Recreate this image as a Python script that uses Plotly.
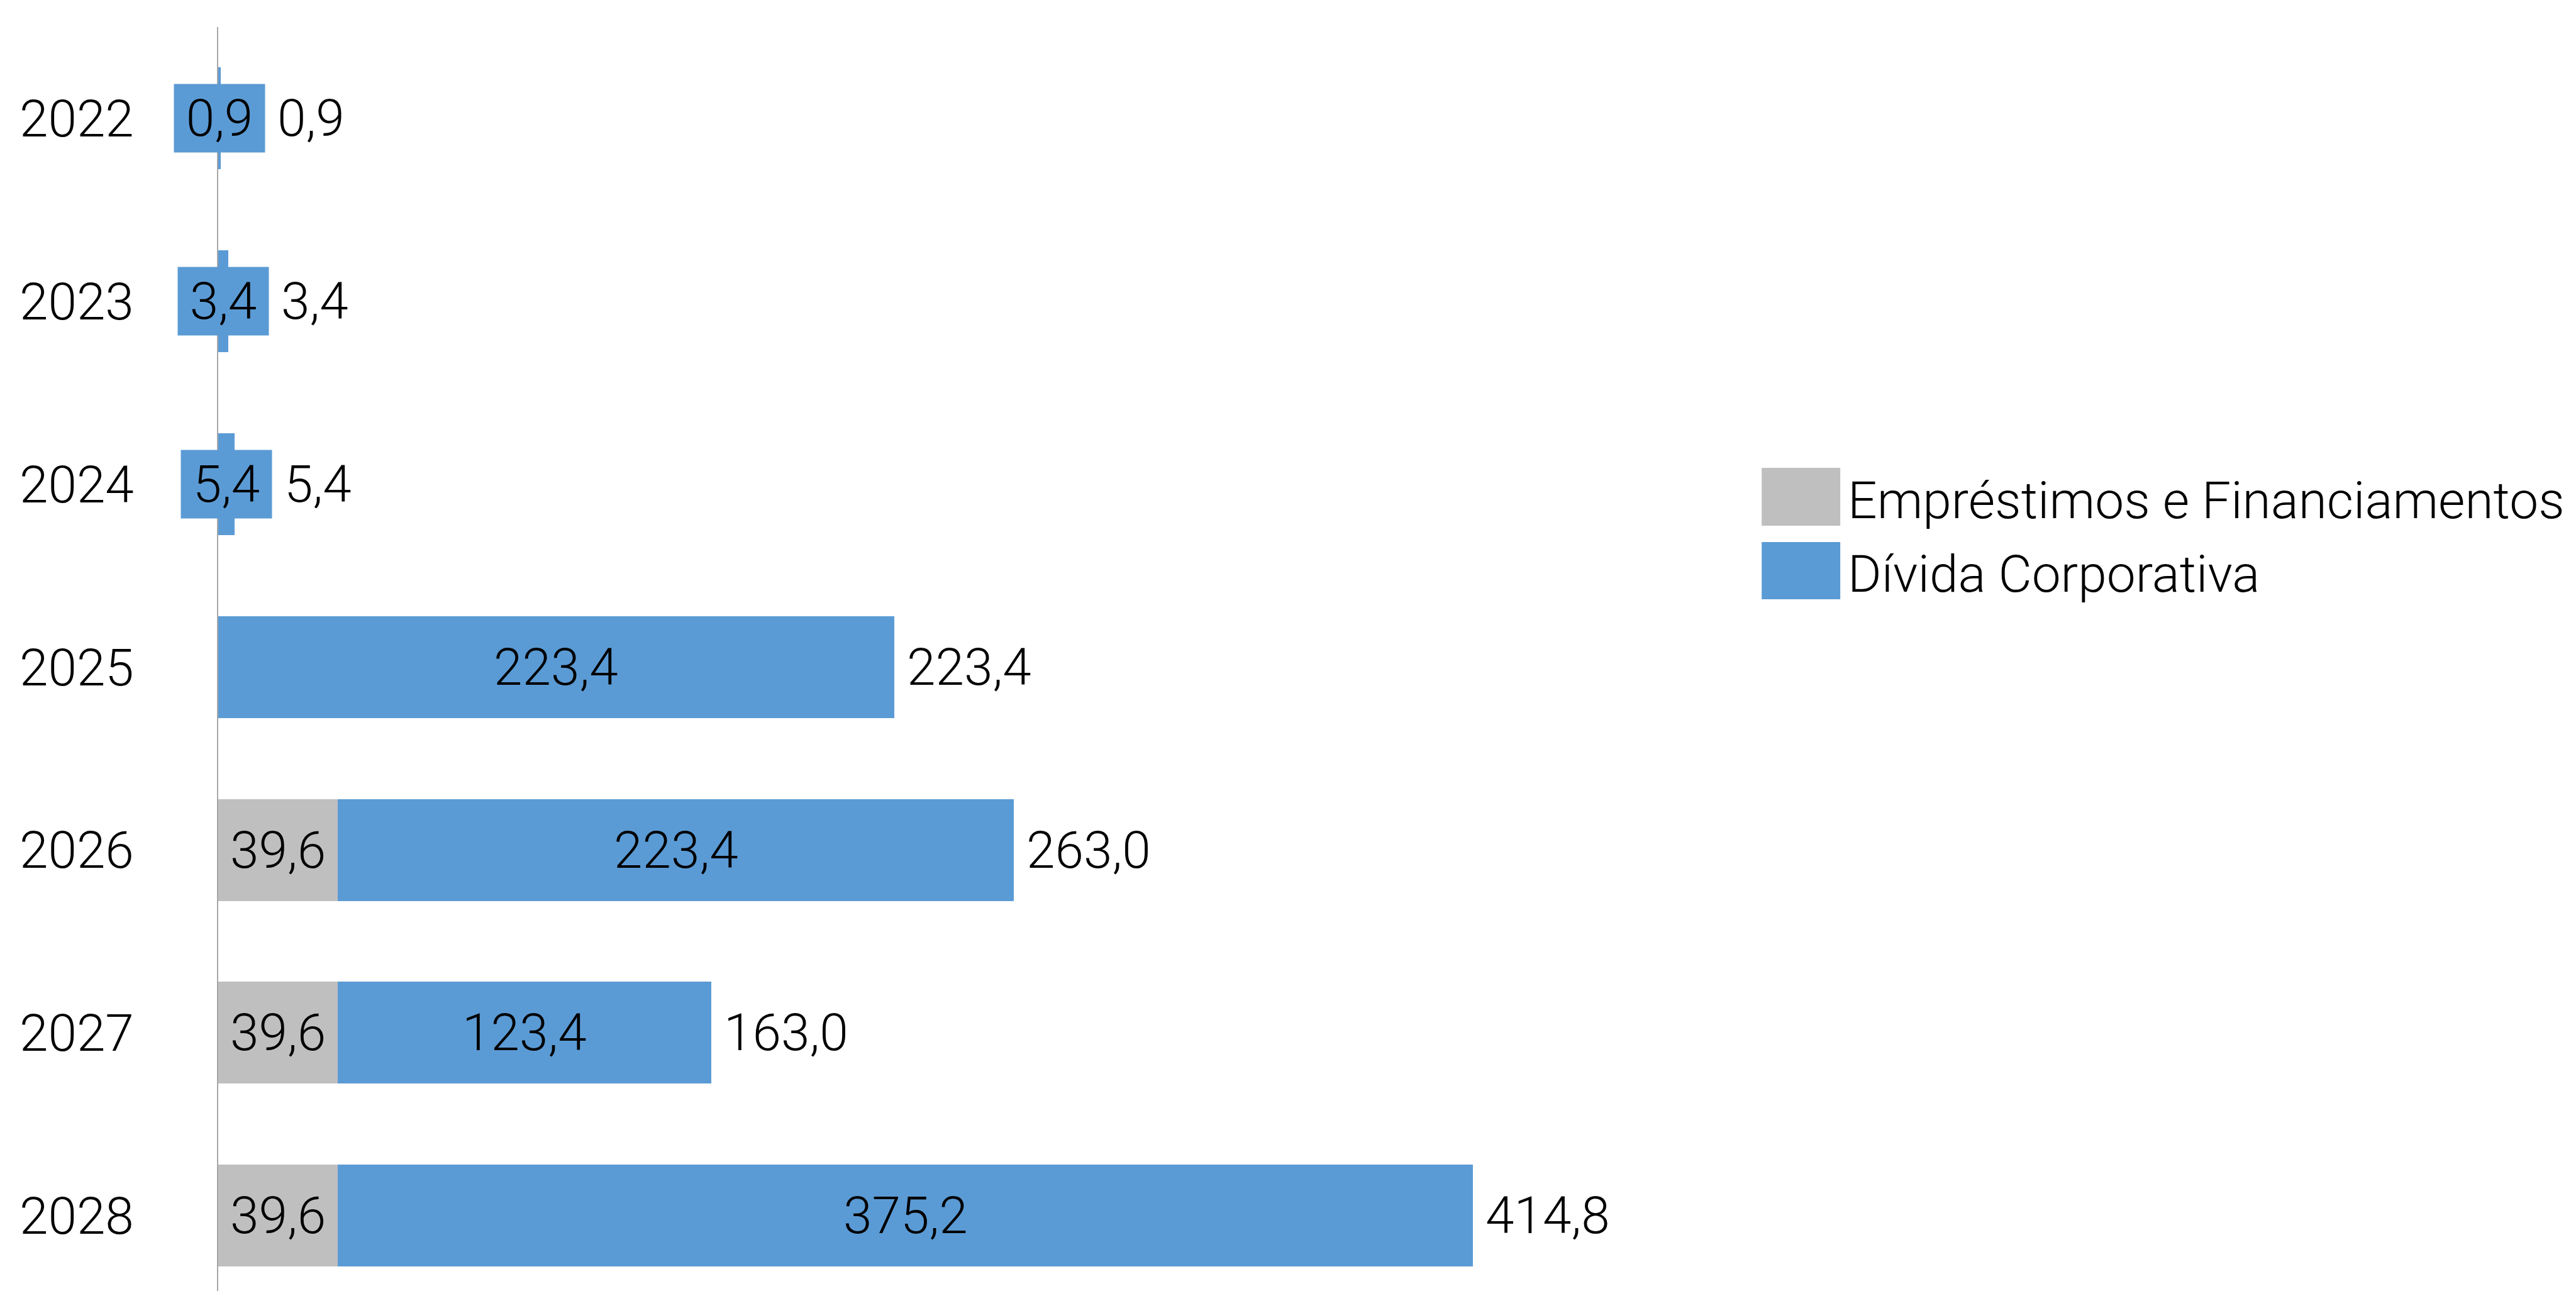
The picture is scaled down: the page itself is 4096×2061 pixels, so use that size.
import plotly.graph_objects as go

# ---- data ----
years = ["2022", "2023", "2024", "2025", "2026", "2027", "2028"]
emprestimos = [0.0, 0.0, 0.0, 0.0, 39.6, 39.6, 39.6]
divida = [0.9, 3.4, 5.4, 223.4, 223.4, 123.4, 375.2]
series_names = ["Empréstimos e Financiamentos", "Dívida Corporativa"]
colors = ["#BFBFBF", "#5B9BD5"]

totals = [round(a + b, 1) for a, b in zip(emprestimos, divida)]


def fmt(v):
    return f"{v:.1f}".replace(".", ",")


# ---- layout geometry (window px; page body has an 8px margin) ----
OFF = 8
W, H = 4096 - 2 * OFF, 2061 - 2 * OFF
AXIS_X = 346.5          # window px of the value axis
PLOT_TOP = 43           # window px
ML = AXIS_X - OFF
MT = PLOT_TOP - OFF
MR = 0
MB = 0
plot_w = W - ML - MR
plot_h = H - MT - MB
PPU = 4.811             # px per data unit
XMAX = plot_w / PPU
cat_px = 290.8
y_bottom = -0.5 + plot_h / cat_px

FONT = "Roboto"
NUM_SIZE = 82

fig = go.Figure()
fig.add_trace(go.Bar(y=years, x=emprestimos, orientation="h", name=series_names[0],
                     marker=dict(color=colors[0], line=dict(width=0)), showlegend=False,
                     hoverinfo="skip"))
fig.add_trace(go.Bar(y=years, x=divida, orientation="h", name=series_names[1],
                     marker=dict(color=colors[1], line=dict(width=0)), showlegend=False,
                     hoverinfo="skip"))

annotations = []
BOX_W, BOX_H = 144, 108
for i, (e, d, t) in enumerate(zip(emprestimos, divida, totals)):
    if e > 0:
        annotations.append(dict(x=e / 2, y=i, xref="x", yref="y", text=fmt(e),
                                showarrow=False, font=dict(size=NUM_SIZE, color="black"),
                                xanchor="center", yanchor="middle"))
    if d > 0:
        lab = dict(x=e + d / 2, y=i, xref="x", yref="y", text=fmt(d),
                   showarrow=False, font=dict(size=NUM_SIZE, color="black"),
                   bgcolor=colors[1], borderpad=0,
                   xanchor="center", yanchor="middle")
        if d * PPU < BOX_W:
            lab.update(width=BOX_W, height=BOX_H)
        annotations.append(lab)
    center_px = (e + d / 2) * PPU
    end_px = t * PPU
    shift = max(0.0, center_px + BOX_W / 2 - end_px) + 18
    annotations.append(dict(x=t, y=i, xref="x", yref="y", text=fmt(t), showarrow=False,
                            font=dict(size=NUM_SIZE, color="black"),
                            xanchor="left", yanchor="middle", xshift=shift))


# ---- custom legend (window px -> paper) ----
def px_to_paper_x(px):
    return (px - OFF - ML) / plot_w


def px_to_paper_y(py):
    return 1 - (py - OFF - MT) / plot_h


shapes = []
leg_x0, leg_x1 = 2801, 2926
leg_rows = [(744, 836), (862, 953)]
for name, col, (y0, y1) in zip(series_names, colors, leg_rows):
    shapes.append(dict(type="rect", xref="paper", yref="paper",
                       x0=px_to_paper_x(leg_x0), x1=px_to_paper_x(leg_x1),
                       y0=px_to_paper_y(y1), y1=px_to_paper_y(y0),
                       fillcolor=col, line=dict(width=0)))
    annotations.append(dict(x=px_to_paper_x(2936), y=px_to_paper_y((y0 + y1) / 2 + 6),
                            xref="paper", yref="paper", text=name, showarrow=False,
                            font=dict(size=82, color="black"),
                            xanchor="left", yanchor="middle"))

fig.update_layout(
    width=W, height=H,
    barmode="stack", bargap=0.443,
    plot_bgcolor="white", paper_bgcolor="white",
    margin=dict(l=ML, r=MR, t=MT, b=MB, pad=0, autoexpand=False),
    font=dict(family=FONT, weight=300, color="black"),
    showlegend=False,
    annotations=annotations,
    shapes=shapes,
    xaxis=dict(range=[0, XMAX], visible=False, showgrid=False, zeroline=False),
    yaxis=dict(type="category", categoryorder="array", categoryarray=years,
               range=[y_bottom, -0.5], showline=True, linecolor="#A6A6A6", linewidth=1.5,
               showgrid=False, zeroline=False, ticks="",
               tickfont=dict(size=82, color="black"), ticklabelstandoff=116),
)

fig.write_html("out.html")
